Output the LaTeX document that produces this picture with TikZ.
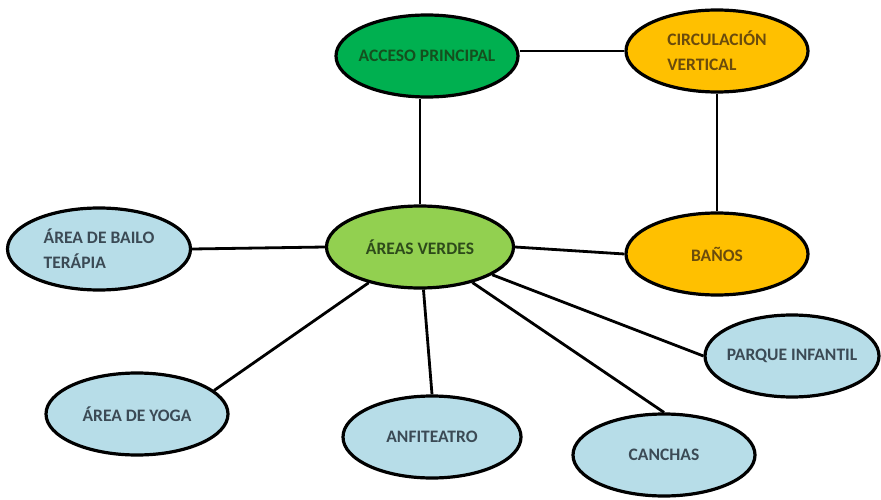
\documentclass[tikz,border=0pt]{standalone}
\usepackage{fontspec}
\setmainfont{Carlito}
\usetikzlibrary{shapes.geometric}
\definecolor{dkgreen}{HTML}{00B050}
\definecolor{ltgreen}{HTML}{92D050}
\definecolor{orangefill}{HTML}{FFC000}
\definecolor{bluefill}{HTML}{B7DDE8}
\definecolor{dkgreentext}{HTML}{14501E}
\definecolor{ltgreentext}{HTML}{2D4A1A}
\definecolor{orangetext}{HTML}{6A4B0C}
\definecolor{bluetext}{HTML}{3B4A55}
\begin{document}
\begin{tikzpicture}[x=1pt,y=-1pt,
  bub/.style={ellipse,draw=black,line width=3.2pt,minimum width=182pt,minimum height=82pt,inner sep=-15pt,font=\bfseries\fontsize{17.5}{25}\selectfont,align=left},
  bluebub/.style={bub,fill=bluefill,text=bluetext},
  orangebub/.style={bub,fill=orangefill,text=orangetext},
  conn/.style={line width=2.8pt,draw=black}]
\useasboundingbox (0,0) rectangle (881,500);
\node[bub,fill=dkgreen,text=dkgreentext] (acceso) at (427,56) {ACCESO PRINCIPAL};
\node[orangebub] (circ) at (717,51) {CIRCULACIÓN\\VERTICAL};
\node[bub,fill=ltgreen,text=ltgreentext,minimum width=187pt] (verdes) at (420,247) {ÁREAS VERDES};
\node[orangebub] (banos) at (717,254) {BAÑOS};
\node[bluebub,minimum width=183pt] (bailo) at (99,249) {ÁREA DE BAILO\\TERÁPIA};
\node[bluebub,minimum width=174pt] (parque) at (792,356) {PARQUE INFANTIL};
\node[bluebub] (yoga) at (137,414) {ÁREA DE YOGA};
\node[bluebub,minimum width=178pt] (anfi) at (432,437) {ANFITEATRO};
\node[bluebub] (canchas) at (664,455) {CANCHAS};
\draw[conn] (circ.west) -- (circ.west -| acceso.east);
\draw[conn] (circ.south) -- (banos.north);
\draw[conn] (verdes.north) -- (verdes.north |- acceso.south);
\draw[conn] (bailo.east) -- (verdes.west);
\draw[conn] (verdes.east) -- (banos.west);
\draw[conn] (verdes) -- (yoga.17);
\draw[conn] (verdes) -- (anfi.north);
\draw[conn] (verdes) -- (canchas.north);
\draw[conn] (verdes) -- (parque.west);
\end{tikzpicture}
\end{document}
